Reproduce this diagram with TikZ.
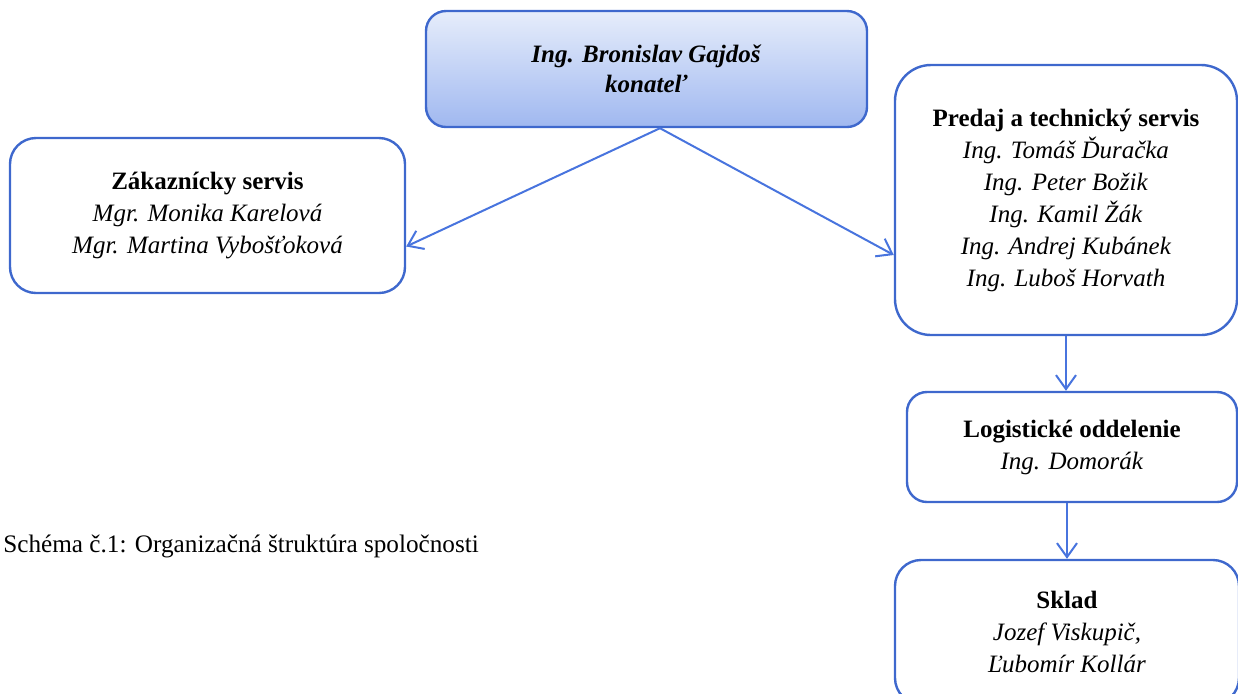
\documentclass[tikz,border=0pt]{standalone}
\usepackage{fontspec}
\setmainfont{Liberation Serif}
\usetikzlibrary{arrows.meta,calc}

\definecolor{boxblue}{RGB}{62,104,205}
\definecolor{linkblue}{RGB}{72,116,222}
\definecolor{headtop}{RGB}{230,237,251}
\definecolor{headbot}{RGB}{160,184,240}

\begin{document}
\begin{tikzpicture}[
        x=0.5pt, y=-0.5pt,
        every node/.style={color=black, font=\fontsize{12.5}{16}\selectfont},
        unit/.style={draw=boxblue, line width=1.2pt, rounded corners=10pt,
            align=center, inner sep=0pt},
        head/.style={unit, top color=headtop, bottom color=headbot},
        link/.style={draw=linkblue, line width=1pt,
            -{Straight Barb[length=7pt,width=10pt]}},
    ]

    \clip (0,0) rectangle (1238,693);

    \node[head, minimum width=220.5pt, minimum height=58pt,
        font=\fontsize{12.5}{15}\selectfont] (boss) at (646.5,69)
        {\textbf{\textit{Ing. Bronislav Gajdoš}}\\\textbf{\textit{konateľ}}};

    \node[unit, minimum width=197.5pt, minimum height=77.5pt, rounded corners=13pt]
        (zakaznik) at (207.5,215.5)
        {\textbf{Zákaznícky servis}\\\textit{Mgr. Monika Karelová}\\\textit{Mgr. Martina Vybošťoková}};

    \node[unit, minimum width=171pt, minimum height=135pt, rounded corners=18pt]
        (predaj) at (1066,200)
        {\textbf{Predaj a technický servis}\\\textit{Ing. Tomáš Ďuračka}\\\textit{Ing. Peter Božik}\\
         \textit{Ing. Kamil Žák}\\\textit{Ing. Andrej Kubánek}\\\textit{Ing. Luboš Horvath}};

    \node[unit, minimum width=165pt, minimum height=55pt] (logis) at (1072,447)
        {\textbf{Logistické oddelenie}\\\textit{Ing. Domorák}};

    \node[unit, minimum width=172pt, minimum height=72pt, rounded corners=13pt]
        (sklad) at (1067,632)
        {\textbf{Sklad}\\\textit{Jozef Viskupič,}\\\textit{Ľubomír Kollár}};

    \node[anchor=base west, inner sep=0pt, font=\fontsize{12.6}{15}\selectfont]
        (caption) at (3,552) {Schéma č.1: Organizačná štruktúra spoločnosti};

    % links
    \coordinate (fork) at ($(boss.south)+(13.5,0)$);
    \draw[link] (fork) -- ($(zakaznik.east)+(0,31)$);
    \draw[link] (fork) -- ($(predaj.west)+(0,55)$);
    \draw[link] (predaj.south) -- (predaj.south |- logis.north);
    \draw[link] (logis.south -| sklad.north) -- (sklad.north);

\end{tikzpicture}
\end{document}
